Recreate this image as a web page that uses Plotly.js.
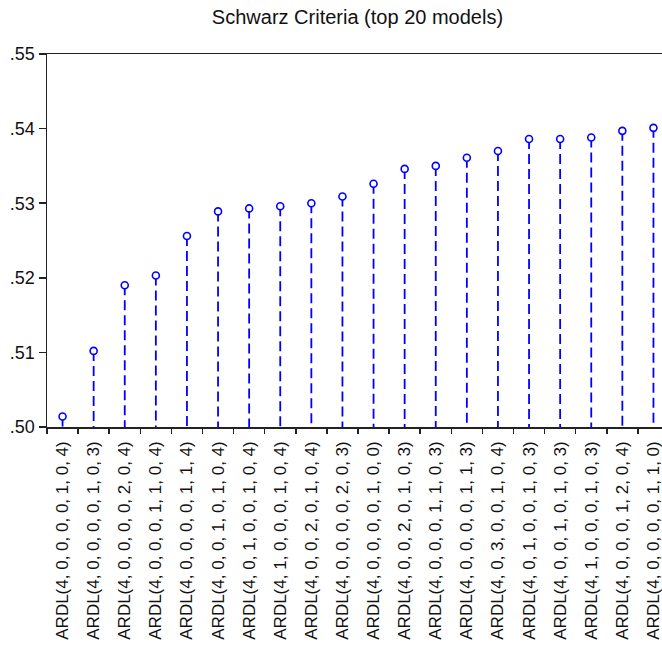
<!DOCTYPE html>
<html><head><meta charset="utf-8">
<script src="https://cdn.plot.ly/plotly-3.0.1.min.js"></script>
<style>html,body{margin:0;padding:0;background:#fff}</style>
</head><body><div id="chart" style="width:662px;height:666px"></div>
<script>
const models = [
  "ARDL(4, 0, 0, 0, 0, 1, 0, 4)",
  "ARDL(4, 0, 0, 0, 0, 1, 0, 3)",
  "ARDL(4, 0, 0, 0, 0, 2, 0, 4)",
  "ARDL(4, 0, 0, 0, 1, 1, 0, 4)",
  "ARDL(4, 0, 0, 0, 0, 1, 1, 4)",
  "ARDL(4, 0, 0, 1, 0, 1, 0, 4)",
  "ARDL(4, 0, 1, 0, 0, 1, 0, 4)",
  "ARDL(4, 1, 0, 0, 0, 1, 0, 4)",
  "ARDL(4, 0, 0, 2, 0, 1, 0, 4)",
  "ARDL(4, 0, 0, 0, 0, 2, 0, 3)",
  "ARDL(4, 0, 0, 0, 0, 1, 0, 0)",
  "ARDL(4, 0, 0, 2, 0, 1, 0, 3)",
  "ARDL(4, 0, 0, 0, 1, 1, 0, 3)",
  "ARDL(4, 0, 0, 0, 0, 1, 1, 3)",
  "ARDL(4, 0, 3, 0, 0, 1, 0, 4)",
  "ARDL(4, 0, 1, 0, 0, 1, 0, 3)",
  "ARDL(4, 0, 0, 1, 0, 1, 0, 3)",
  "ARDL(4, 1, 0, 0, 0, 1, 0, 3)",
  "ARDL(4, 0, 0, 0, 1, 2, 0, 4)",
  "ARDL(4, 0, 0, 0, 0, 1, 1, 0)"
];
const schwarz = [
  0.5014, 0.5102, 0.5190, 0.5203, 0.5256, 0.5289, 0.5293, 0.5296, 0.5300, 0.5309,
  0.5326, 0.5346, 0.5350, 0.5361, 0.5370, 0.5386, 0.5386, 0.5388, 0.5397, 0.5401
];
const baseline = 0.50;
const yTickVals = [0.50, 0.51, 0.52, 0.53, 0.54, 0.55];
const yTickText = [".50", ".51", ".52", ".53", ".54", ".55"];
const titleText = "Schwarz Criteria (top 20 models)";

const stemX = [], stemY = [];
models.forEach((m, i) => { stemX.push(m, m, null); stemY.push(schwarz[i], baseline, null); });

const FONT = "Liberation Sans, Arial, sans-serif";
const BLUE = "#0000ff";
const AX = "#222222";

const traces = [
  { type: "scatter", mode: "lines", x: stemX, y: stemY, connectgaps: false,
    line: { color: BLUE, width: 1.8, dash: "10px,5px" }, hoverinfo: "skip", showlegend: false },
  { type: "scatter", mode: "markers", x: models, y: schwarz, showlegend: false,
    marker: { symbol: "circle", size: 7, color: "#ffffff", line: { color: BLUE, width: 1.6 } } }
];

const layout = {
  width: 662, height: 666,
  margin: { l: 47, r: 0, t: 54, b: 239 },
  paper_bgcolor: "#ffffff", plot_bgcolor: "#ffffff",
  showlegend: false,
  title: { text: titleText, x: 0.54, xref: "container", xanchor: "center",
           y: 1 - 17 / 666, yref: "container", yanchor: "middle",
           font: { family: FONT, size: 20, color: "#111111" } },
  xaxis: {
    type: "category", categoryorder: "array", categoryarray: models,
    range: [-0.5, 19.275], showgrid: false, zeroline: false,
    showline: true, linecolor: AX, linewidth: 1.5, mirror: true,
    ticks: "outside", ticklen: 5, tickwidth: 1.5, tickcolor: AX, tickson: "boundaries",
    tickangle: -90, ticklabelstandoff: 6,
    tickfont: { family: FONT, size: 17, color: "#111111" }
  },
  yaxis: {
    range: [0.50, 0.55], showgrid: false, zeroline: false,
    showline: true, linecolor: AX, linewidth: 1.5,
    ticks: "outside", ticklen: 7, tickwidth: 1.5, tickcolor: AX,
    tickvals: yTickVals, ticktext: yTickText,
    tickfont: { family: FONT, size: 18, color: "#111111" }
  }
};

Plotly.newPlot("chart", traces, layout, { displayModeBar: false, staticPlot: true });
</script>
</body></html>
